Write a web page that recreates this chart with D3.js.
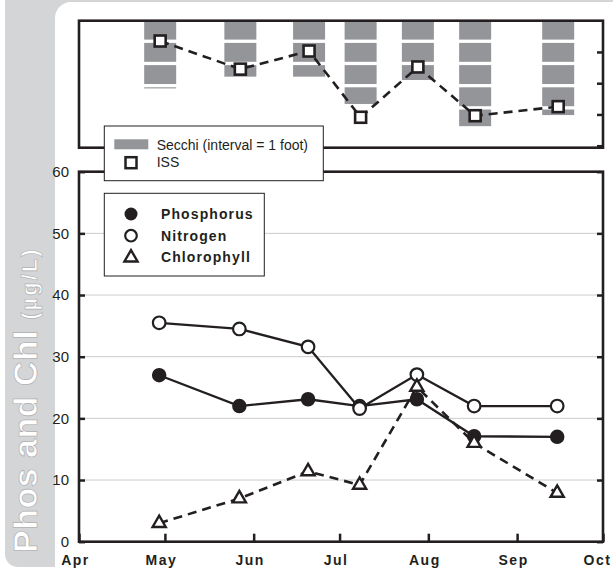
<!DOCTYPE html>
<html lang="en">
<head>
<meta charset="UTF-8">
<title>Phos and Chl</title>
<script src="https://d3js.org/d3.v7.min.js"></script>
<style>
  body { margin: 0; background: #fff; }
  svg { display: block; font-family: "Liberation Sans", Arial, sans-serif; }
</style>
</head>
<body>
<script>
// sample data
const sampleDates = ["2009-04-29", "2009-05-27", "2009-06-20", "2009-07-08", "2009-07-28", "2009-08-17", "2009-09-15"];
const phosphorus = [27, 22, 23.1, 22, 23.1, 17.1, 17];
const nitrogen = [35.5, 34.5, 31.6, 21.6, 27.1, 22, 22];
const chlorophyll = [3, 7, 11.4, 9.2, 25.1, 16, 7.9];
const secchiFt = [3.05, 2.52, 2.52, 3.75, 2.67, 4.75, 4.25];
const iss = [3.35, 2.45, 3.03, 0.91, 2.52, 0.96, 1.25];
const yTicks = [0, 10, 20, 30, 40, 50, 60];
const issTicks = [0, 1, 2, 3];
const legendSeries = ["Phosphorus", "Nitrogen", "Chlorophyll"];

const width = 613, height = 572;
const ink = "#231f20";
const parse = d3.timeParse("%Y-%m-%d");
const dates = sampleDates.map(parse);

const left = 79, right = 603;
const top1 = 20.7, bot1 = 147.7;
const top2 = 171.7, bot2 = 541.7;

const x = d3.scaleTime()
    .domain([new Date(2009, 3, 1), new Date(2009, 9, 1)])
    .range([left, right]);
const y = d3.scaleLinear().domain([0, 60]).range([bot2, top2]);
const ySecchi = d3.scaleLinear().domain([0, 5.72]).range([top1, bot1]);
const yIss = d3.scaleLinear().domain([-0.064, 4]).range([bot1, top1]);

const svg = d3.select("body").append("svg")
    .attr("width", width)
    .attr("height", height);

// background: gray band on the left, white rounded panel
svg.append("rect").attr("x", 0).attr("y", 0).attr("width", width).attr("height", height).attr("fill", "#fff");
svg.append("rect").attr("x", 5).attr("y", -30).attr("width", 700).attr("height", 597).attr("rx", 13).attr("fill", "#d4d5d7");
svg.append("rect").attr("x", 55).attr("y", 2).attr("width", 700).attr("height", 700).attr("rx", 16).attr("fill", "#fff");

// axis title
const title = svg.append("text")
    .attr("transform", "translate(37,553) rotate(-90)")
    .attr("fill", "#fff")
    .attr("stroke", "#aeafb1")
    .attr("stroke-width", 0.7)
    .attr("font-weight", "bold");
title.append("tspan").attr("font-size", 34).attr("letter-spacing", 0.5).text("Phos and Chl ");
title.append("tspan").attr("font-size", 22).attr("letter-spacing", 2).text("(µg/L)");

// ---------- top panel: Secchi + ISS ----------
const topG = svg.append("g");
const barW = 32;
dates.forEach((d, i) => {
    const depth = secchiFt[i];
    for (let k = 0; k < Math.ceil(depth); k++) {
        const y0 = ySecchi(k);
        const full = k + 1 <= depth;
        const y1 = full ? ySecchi(k + 1) - 3.3 : ySecchi(depth);
        topG.append("rect")
            .attr("x", x(d) - barW / 2 + 1)
            .attr("y", y0)
            .attr("width", barW)
            .attr("height", Math.max(1, y1 - y0))
            .attr("fill", "#939598");
    }
});

topG.append("path")
    .datum(iss)
    .attr("fill", "none")
    .attr("stroke", ink)
    .attr("stroke-width", 2.6)
    .attr("stroke-dasharray", "9,6")
    .attr("d", d3.line().x((v, i) => x(dates[i]) + 1).y(v => yIss(v)));

topG.selectAll("rect.iss")
    .data(iss)
    .join("rect")
    .attr("class", "iss")
    .attr("x", (v, i) => x(dates[i]) + 1 - 5.5)
    .attr("y", v => yIss(v) - 5.5)
    .attr("width", 11)
    .attr("height", 11)
    .attr("fill", "#fff")
    .attr("stroke", ink)
    .attr("stroke-width", 2.6);

topG.append("g")
    .attr("transform", `translate(${right},0)`)
    .call(d3.axisRight(yIss).tickValues(issTicks).tickSize(-6).tickFormat(""))
    .call(g => g.select(".domain").remove())
    .call(g => g.selectAll("line").attr("stroke", ink).attr("stroke-width", 2.5));

topG.append("rect")
    .attr("x", left).attr("y", top1)
    .attr("width", right - left).attr("height", bot1 - top1)
    .attr("fill", "none").attr("stroke", ink).attr("stroke-width", 2.6);

// ---------- bottom panel ----------
const botG = svg.append("g");

botG.append("g")
    .selectAll("line")
    .data(yTicks.filter(t => t > 0 && t < 60))
    .join("line")
    .attr("x1", left).attr("x2", right)
    .attr("y1", d => y(d)).attr("y2", d => y(d))
    .attr("stroke", "#cbcbcb").attr("stroke-width", 1);

botG.append("g")
    .attr("transform", `translate(${left},0)`)
    .call(d3.axisLeft(y).tickValues(yTicks).tickSize(-6).tickPadding(10))
    .call(g => g.select(".domain").remove())
    .call(g => g.selectAll("line").attr("stroke", ink).attr("stroke-width", 2.5))
    .call(g => g.selectAll("text").attr("font-size", 15).attr("fill", ink).attr("font-family", null));

botG.append("g")
    .attr("transform", `translate(${right},0)`)
    .call(d3.axisRight(y).tickValues(yTicks).tickSize(-6).tickFormat(""))
    .call(g => g.select(".domain").remove())
    .call(g => g.selectAll("line").attr("stroke", ink).attr("stroke-width", 2.5));

botG.append("g")
    .attr("transform", `translate(0,${bot2})`)
    .call(d3.axisBottom(x).ticks(d3.timeMonth.every(1)).tickSize(-8).tickPadding(13).tickFormat(d3.timeFormat("%b")))
    .call(g => g.select(".domain").remove())
    .call(g => g.selectAll("line").attr("stroke", ink).attr("stroke-width", 2.5))
    .call(g => g.selectAll("text")
        .attr("font-size", 14).attr("font-weight", "bold").attr("letter-spacing", 1.5)
        .attr("dx", (d, i, n) => i === n.length - 1 ? -6 : -4)
        .attr("fill", ink).attr("font-family", null));

botG.append("rect")
    .attr("x", left).attr("y", top2)
    .attr("width", right - left).attr("height", bot2 - top2)
    .attr("fill", "none").attr("stroke", ink).attr("stroke-width", 2.6);

const line = d3.line().x((v, i) => x(dates[i])).y(v => y(v));
botG.append("path").datum(phosphorus).attr("fill", "none").attr("stroke", ink).attr("stroke-width", 2.3).attr("d", line);
botG.append("path").datum(nitrogen).attr("fill", "none").attr("stroke", ink).attr("stroke-width", 2.3).attr("d", line);
botG.append("path").datum(chlorophyll).attr("fill", "none").attr("stroke", ink).attr("stroke-width", 2.6)
    .attr("stroke-dasharray", "9,6").attr("d", line);

botG.selectAll("circle.p").data(phosphorus).join("circle").attr("class", "p")
    .attr("cx", (v, i) => x(dates[i])).attr("cy", v => y(v)).attr("r", 6.5)
    .attr("fill", ink).attr("stroke", ink).attr("stroke-width", 1.5);
botG.selectAll("circle.n").data(nitrogen).join("circle").attr("class", "n")
    .attr("cx", (v, i) => x(dates[i])).attr("cy", v => y(v)).attr("r", 6.3)
    .attr("fill", "#fff").attr("stroke", ink).attr("stroke-width", 2.2);
const tri = d3.symbol(d3.symbolTriangle, 75);
botG.selectAll("path.c").data(chlorophyll).join("path").attr("class", "c")
    .attr("transform", (v, i) => `translate(${x(dates[i])},${y(v)})`)
    .attr("d", tri)
    .attr("fill", "#fff").attr("stroke", ink).attr("stroke-width", 2.4).attr("stroke-linejoin", "miter");

// ---------- legends ----------
const lg1 = svg.append("g");
lg1.append("rect").attr("x", 104.3).attr("y", 126).attr("width", 219).attr("height", 54.7)
    .attr("fill", "#fff").attr("stroke", ink).attr("stroke-width", 1);
lg1.append("rect").attr("x", 114.3).attr("y", 139.3).attr("width", 34).attr("height", 10).attr("fill", "#939598");
lg1.append("text").attr("x", 156.7).attr("y", 149.5).attr("font-size", 14).attr("fill", ink).text("Secchi (interval = 1 foot)");
lg1.append("rect").attr("x", 131 - 5.5).attr("y", 162.7 - 5.5).attr("width", 11).attr("height", 11)
    .attr("fill", "#fff").attr("stroke", ink).attr("stroke-width", 2.5);
lg1.append("text").attr("x", 156.7).attr("y", 167).attr("font-size", 14).attr("fill", ink).text("ISS");

const lg2 = svg.append("g");
lg2.append("rect").attr("x", 104.3).attr("y", 193.3).attr("width", 160).attr("height", 82.7)
    .attr("fill", "#fff").attr("stroke", ink).attr("stroke-width", 1);
const legY = [214, 235.7, 256.7];
lg2.append("circle").attr("cx", 131).attr("cy", legY[0]).attr("r", 6.5).attr("fill", ink);
lg2.append("circle").attr("cx", 131).attr("cy", legY[1]).attr("r", 5.8).attr("fill", "#fff").attr("stroke", ink).attr("stroke-width", 2.2);
lg2.append("path").attr("transform", `translate(131,${legY[2] + 1})`).attr("d", tri)
    .attr("fill", "#fff").attr("stroke", ink).attr("stroke-width", 2.4);
legendSeries.forEach((s, i) => {
    lg2.append("text").attr("x", 161).attr("y", legY[i] + 5)
        .attr("font-size", 14).attr("font-weight", "bold").attr("letter-spacing", 1.1)
        .attr("fill", ink).text(s);
});
</script>
</body>
</html>
